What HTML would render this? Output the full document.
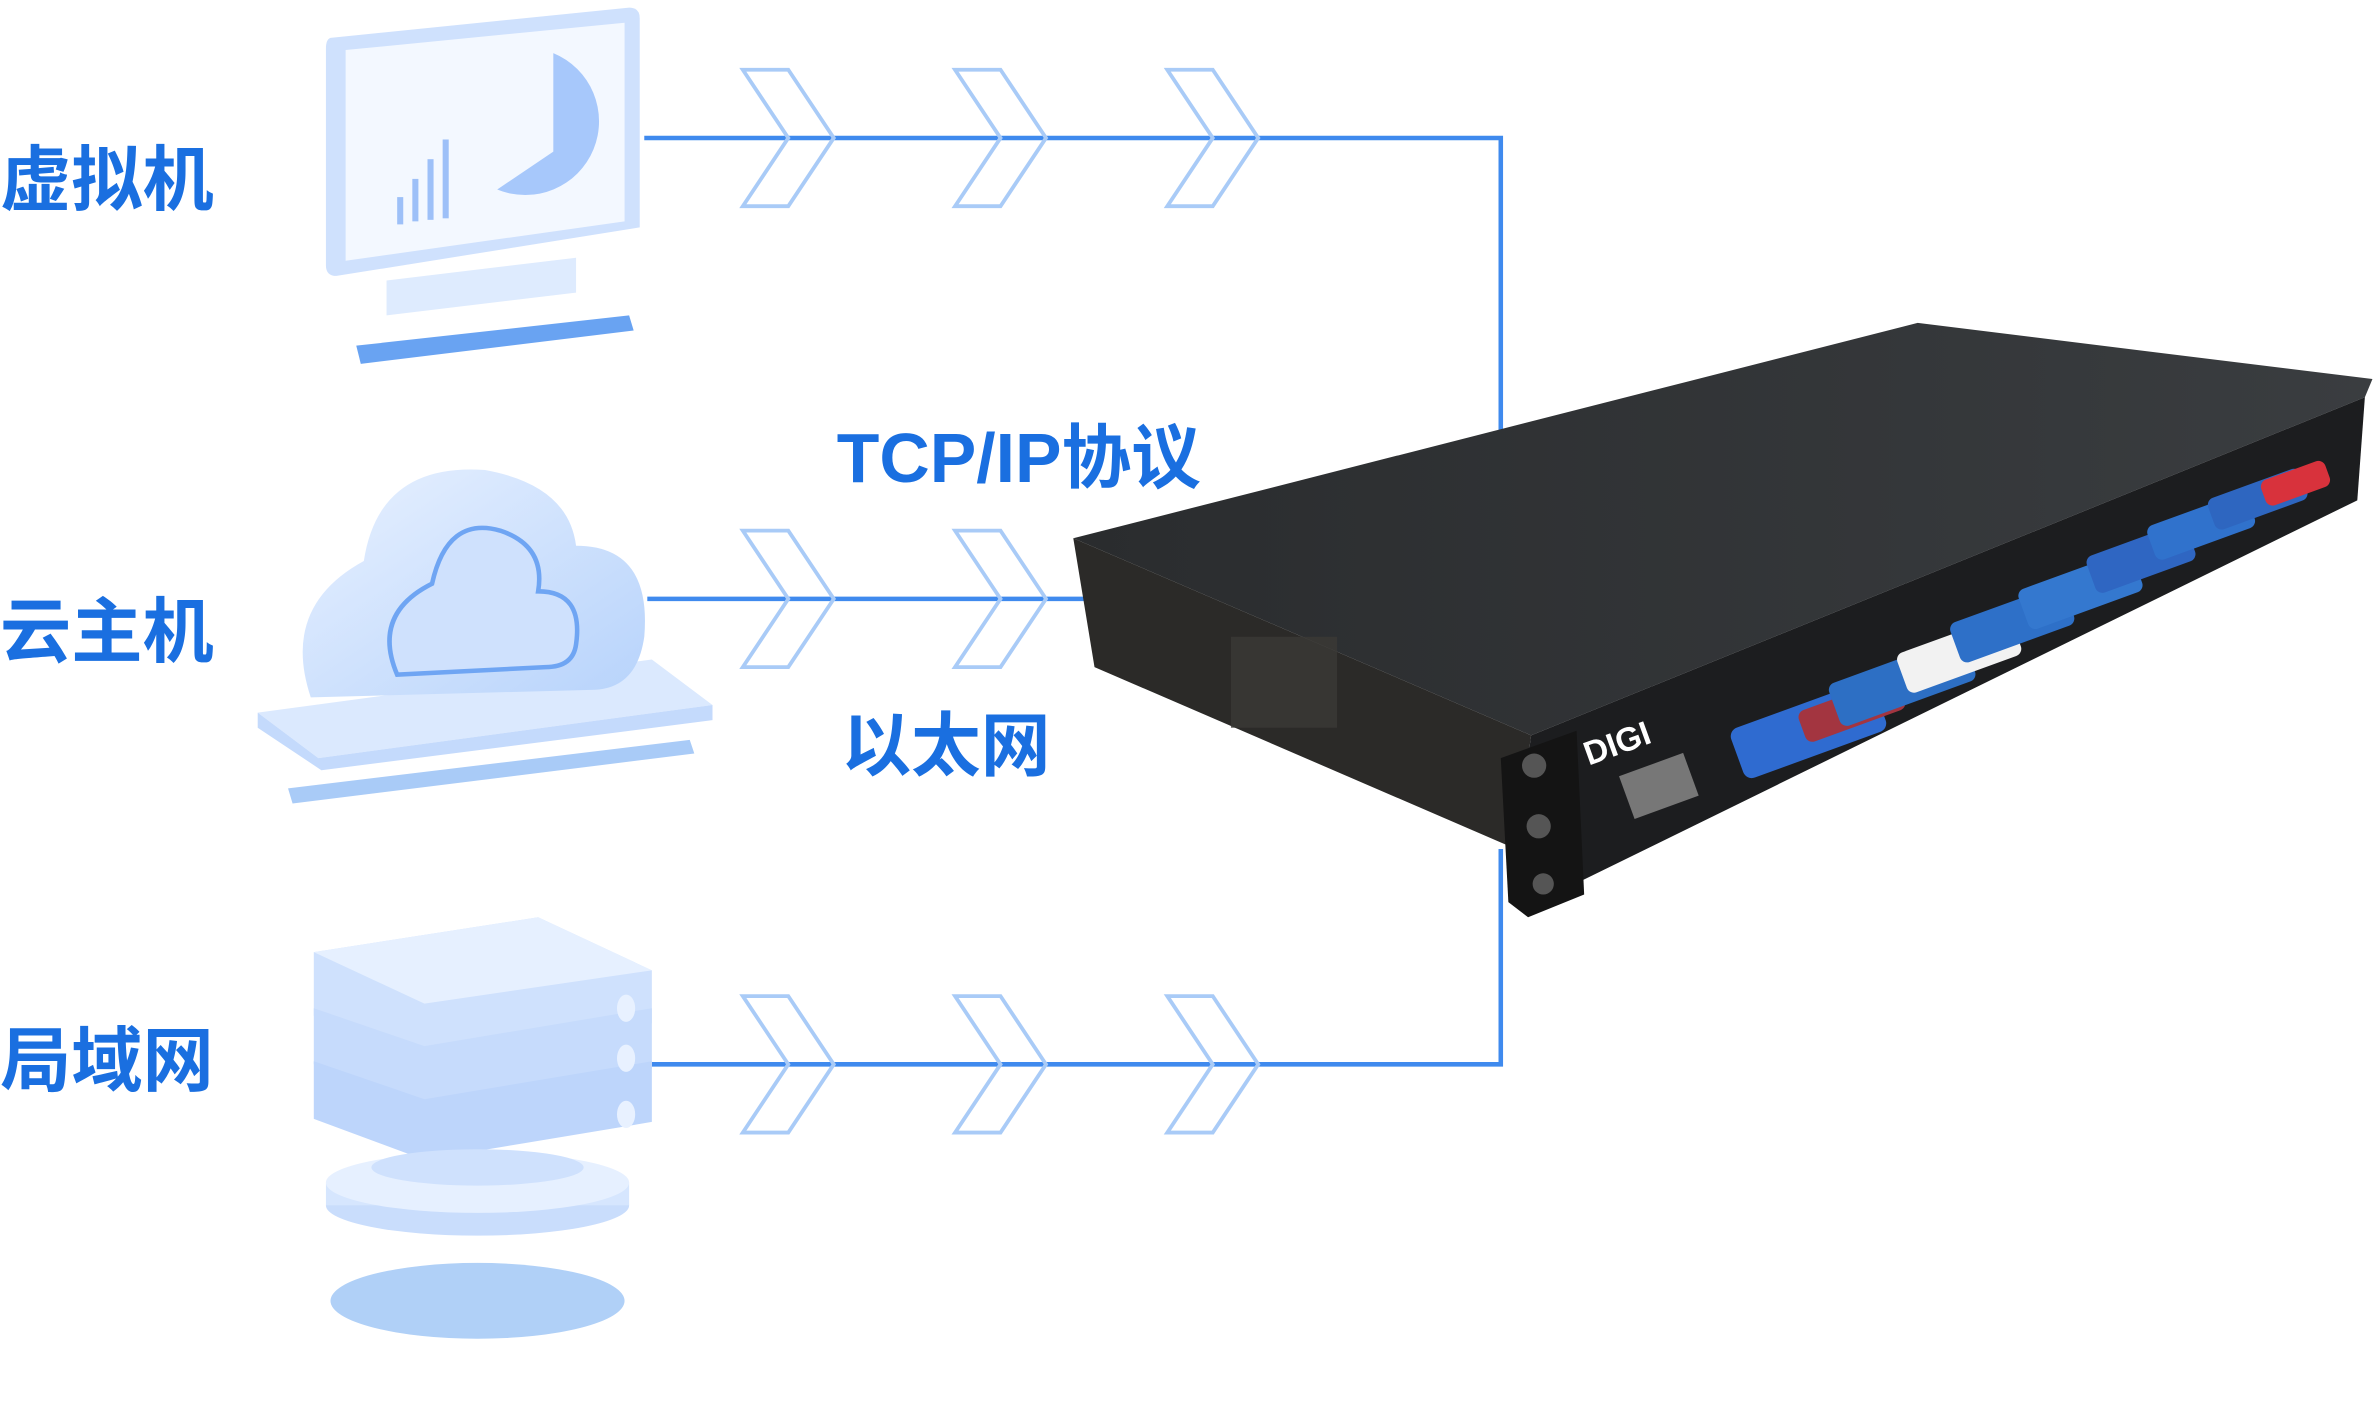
<!DOCTYPE html>
<html><head><meta charset="utf-8"><style>
html,body{margin:0;padding:0;background:#fff;width:2377px;height:1410px;overflow:hidden}
svg{display:block}
text{font-family:"Liberation Sans","Noto Sans CJK SC",sans-serif;fill:#1a6fe0}
</style></head><body>
<svg width="2377" height="1410" viewBox="0 0 1568 930" preserveAspectRatio="none" xmlns="http://www.w3.org/2000/svg">
<defs>
<linearGradient id="lb" x1="0" y1="0" x2="1" y2="1"><stop offset="0" stop-color="#e8f1ff"/><stop offset="1" stop-color="#b7d3fb"/></linearGradient>
<linearGradient id="top" x1="0" y1="0" x2="1" y2="0"><stop offset="0" stop-color="#2a2c2e"/><stop offset="1" stop-color="#3a3d40"/></linearGradient>
<g id="chev"><path d="M0,0 L30,0 L60,45 L30,90 L0,90 L30,45 Z" fill="none" stroke="#a9cbf7" stroke-width="2.5"/></g>
</defs>
<g stroke-width="3" fill="none" stroke="#3f8aee">
<polyline points="425,91 990,91 990,290"/>
<line x1="427" y1="395" x2="715" y2="395"/>
<polyline points="430,702 990,702 990,560"/>
</g>
<use href="#chev" x="490" y="46"/><use href="#chev" x="630" y="46"/><use href="#chev" x="770" y="46"/>
<use href="#chev" x="490" y="350"/><use href="#chev" x="630" y="350"/>
<use href="#chev" x="490" y="657"/><use href="#chev" x="630" y="657"/><use href="#chev" x="770" y="657"/>
<text x="0" y="135" font-size="47" font-weight="bold">虚拟机</text>
<text x="0" y="433" font-size="47" font-weight="bold">云主机</text>
<text x="0" y="716" font-size="47" font-weight="bold">局域网</text>
<text x="552" y="318" font-size="46" font-weight="bold">TCP/IP协议</text>
<text x="555" y="508" font-size="46" font-weight="bold">以太网</text>
<path d="M218,25 L415,5 Q422,5 422,12 L422,150 L222,182 Q215,182 215,175 L215,32 Q215,26 218,25Z" fill="#cfe1fd"/>
<path d="M228,33 L412,15 L412,146 L228,172Z" fill="#f3f8ff"/>
<path d="M365,35 A48,48 0 1 1 328,125 L365,100Z" fill="#a7c8fb"/>
<rect x="262" y="130" width="4" height="18" fill="#9dc0f8"/><rect x="272" y="118" width="4" height="28" fill="#9dc0f8"/><rect x="282" y="105" width="4" height="40" fill="#9dc0f8"/><rect x="292" y="92" width="4" height="52" fill="#9dc0f8"/>
<path d="M255,185 L380,170 L380,193 L255,208Z" fill="#deebfe"/>
<path d="M235,228 L415,208 L418,218 L238,240Z" fill="#4f93f0" opacity=".85"/>
<path d="M170,470 L430,435 L470,465 L210,500Z" fill="#dbe9fe"/>
<path d="M170,470 L210,500 L470,465 L470,475 L212,508 L170,480Z" fill="#c4dafc"/>
<path d="M205,460 Q185,400 240,370 Q250,305 320,310 Q375,320 380,360 Q430,360 425,420 Q420,455 390,455 Z" fill="url(#lb)"/>
<path d="M262,445 Q245,405 285,385 Q295,340 330,350 Q360,360 355,390 Q385,390 380,425 Q378,440 360,440 Z" fill="#cfe1fd" stroke="#6fa5f3" stroke-width="3"/>
<path d="M190,520 L455,488 L458,497 L193,530Z" fill="#a9cbf7"/>
<path d="M207,628 L355,605 L430,640 L430,675 L280,700 L207,670Z" fill="#cfe1fd"/>
<path d="M207,628 L355,605 L430,640 L280,662Z" fill="#e6f0ff"/>
<path d="M207,665 L280,690 L430,665 L430,705 L280,730 L207,702Z" fill="#c6dbfc"/>
<path d="M207,700 L280,725 L430,700 L430,740 L280,765 L207,738Z" fill="#bdd5fb"/>
<ellipse cx="413" cy="665" rx="6" ry="9" fill="#e8f1ff"/><ellipse cx="413" cy="698" rx="6" ry="9" fill="#e8f1ff"/><ellipse cx="413" cy="735" rx="6" ry="9" fill="#e8f1ff"/>
<ellipse cx="315" cy="795" rx="100" ry="20" fill="#c9ddfc"/>
<rect x="215" y="780" width="200" height="15" fill="#d6e6fe"/>
<ellipse cx="315" cy="780" rx="100" ry="20" fill="#e6f0ff"/>
<ellipse cx="315" cy="770" rx="70" ry="12" fill="#cfe1fd"/>
<ellipse cx="315" cy="858" rx="97" ry="25" fill="#b0d0f7"/>
<path d="M708,355 L1265,213 L1565,250 L1560,262 L1010,485 Z" fill="url(#top)"/>
<path d="M708,355 L1010,485 L1000,560 L722,440 Z" fill="#2b2a28"/>
<path d="M1010,485 L1560,262 L1555,330 L1035,585 L1000,560 Z" fill="#1c1d1f"/>
<path d="M990,500 L1040,482 L1045,590 L1008,605 L995,595Z" fill="#141414"/>
<circle cx="1012" cy="505" r="8" fill="#555"/><circle cx="1015" cy="545" r="8" fill="#555"/><circle cx="1018" cy="583" r="7" fill="#555"/>
<text x="1048" y="505" font-size="22" font-weight="bold" style="fill:#fff" transform="rotate(-20 1048 505)">DIGI</text>
<rect x="1068" y="512" width="45" height="30" fill="#777" transform="rotate(-20 1068 512)"/>
<rect x="812" y="420" width="70" height="60" fill="#3b3936" opacity=".8"/>
<g>
<rect x="1140" y="482" width="100" height="35" rx="6" fill="#2f6bd0" transform="rotate(-20 1140 482)"/>
<rect x="1185" y="470" width="70" height="22" rx="5" fill="#a33540" transform="rotate(-20 1185 470)"/>
<rect x="1205" y="452" width="95" height="30" rx="5" fill="#2d6fc4" transform="rotate(-20 1205 452)"/>
<rect x="1250" y="432" width="80" height="28" rx="5" fill="#f2f2f2" transform="rotate(-20 1250 432)"/>
<rect x="1285" y="412" width="80" height="28" rx="5" fill="#2e70c8" transform="rotate(-20 1285 412)"/>
<rect x="1330" y="390" width="80" height="28" rx="5" fill="#3478cf" transform="rotate(-20 1330 390)"/>
<rect x="1375" y="368" width="70" height="26" rx="5" fill="#2f66c2" transform="rotate(-20 1375 368)"/>
<rect x="1415" y="348" width="70" height="24" rx="5" fill="#3072cc" transform="rotate(-20 1415 348)"/>
<rect x="1455" y="330" width="65" height="22" rx="5" fill="#2e66c0" transform="rotate(-20 1455 330)"/>
<rect x="1490" y="318" width="45" height="18" rx="5" fill="#d8323c" transform="rotate(-20 1490 318)"/>
</g>
</svg>
</body></html>
